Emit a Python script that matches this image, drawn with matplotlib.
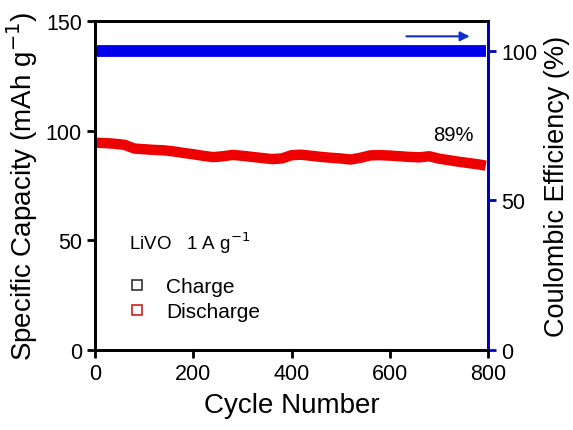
import matplotlib.pyplot as plt

plt.rcParams['font.family'] = ['Liberation Sans', 'DejaVu Sans']

# cycle number vs capacity (every 20 cycles)
cycles = [0, 20, 40, 60, 80, 100, 120, 140, 160, 180, 200, 220, 240, 260, 280,
          300, 320, 340, 360, 380, 400, 420, 440, 460, 480, 500, 520, 540, 560,
          580, 600, 620, 640, 660, 680, 700, 720, 740, 760, 780, 795]
discharge = [94.5, 94.3, 94.0, 93.5, 91.8, 91.5, 91.2, 91.0, 90.5, 89.8, 89.2,
             88.5, 87.9, 88.3, 88.9, 88.5, 88.0, 87.5, 87.0, 87.3, 88.8, 89.0,
             88.5, 88.0, 87.6, 87.3, 86.8, 87.6, 88.7, 88.8, 88.6, 88.3, 88.0,
             87.8, 88.3, 87.2, 86.5, 85.8, 85.2, 84.6, 84.0]
efficiency = [100.0] * len(cycles)

fig, ax = plt.subplots(figsize=(5.73, 4.31), dpi=100)
fig.subplots_adjust(left=0.166, right=0.852, top=0.949, bottom=0.186)

ax.plot(cycles, discharge, color='#ee0000', lw=7.5, solid_capstyle='butt')
ax.plot([], [], 's', mfc='none', mec='#333333', ms=7, mew=1.2, label='Charge')
ax.plot([], [], 's', mfc='none', mec='#d02020', ms=7, mew=1.2, label='Discharge')
ax.set_xlim(0, 800)
ax.set_ylim(0, 150)
ax.set_xticks([0, 200, 400, 600, 800])
ax.set_yticks([0, 50, 100, 150])
ax.set_xlabel('Cycle Number', fontsize=20, labelpad=6)
ax.set_ylabel('Specific Capacity (mAh g$^{-1}$)', fontsize=20, labelpad=4)
ax.tick_params(direction='out', length=6, width=2, labelsize=15.5)

ax.text(68, 49, 'LiVO   1 A g$^{-1}$', fontsize=13.5, va='center')
ax.text(688, 98, '89%', fontsize=14.5, va='center')
ax.legend(loc='lower left', bbox_to_anchor=(0.005, 0.03), frameon=False,
          fontsize=15, handletextpad=0.4, labelspacing=0.3)

ax2 = ax.twinx()
ax2.plot(cycles, efficiency, color='#0000ee', lw=8.5, solid_capstyle='butt')
ax2.set_ylim(0, 110)
ax2.set_yticks([0, 50, 100])
ax2.set_ylabel('Coulombic Efficiency (%)', fontsize=19.5)
ax2.yaxis.set_label_coords(1.143, 0.5)
ax2.tick_params(direction='out', length=6, width=2, labelsize=15.5, color='#0000bb')
ax.annotate('', xy=(768, 143), xytext=(628, 143),
            arrowprops=dict(arrowstyle='-|>', color='#1030cc', lw=1.5,
                            mutation_scale=14))

for a in (ax, ax2):
    for s in a.spines.values():
        s.set_linewidth(2)
ax2.spines['right'].set_color('#0000bb')

plt.savefig('out.png', dpi=100)
